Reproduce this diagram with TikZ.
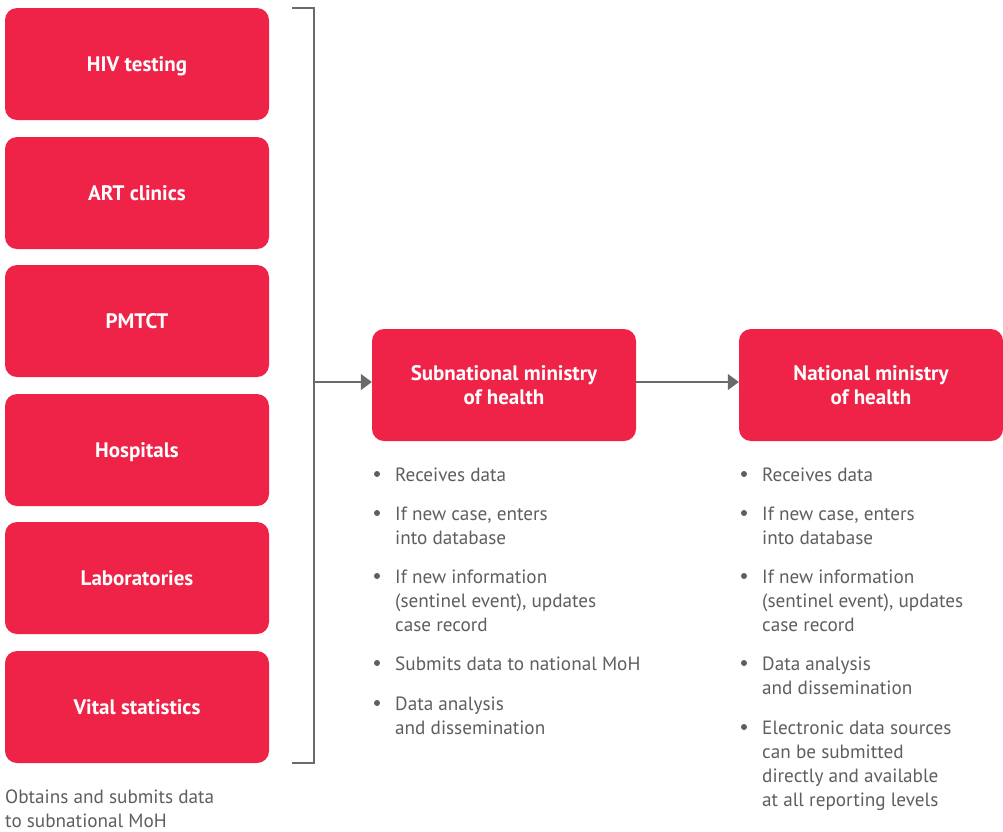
\documentclass[tikz,border=0pt]{standalone}
\usepackage{fontspec}
\setmainfont{PT Sans}
\usetikzlibrary{arrows.meta}
\definecolor{boxred}{HTML}{EE2347}
\definecolor{txtgray}{HTML}{5E5E5E}
\definecolor{linegray}{HTML}{6A6A6A}
\tikzset{
  redbox/.style={draw=none, fill=boxred, rounded corners=12pt, minimum width=264pt, minimum height=112pt, inner sep=0pt, text=white, font=\fontsize{21}{24}\selectfont\bfseries, align=center, text depth=0pt},
  itemtext/.style={anchor=base west, inner sep=0pt, text=txtgray, font=\fontsize{19.2}{24}\selectfont, align=left},
  bul/.style={circle, fill=txtgray, inner sep=0pt, minimum size=6pt},
  conn/.style={draw=linegray, line width=1.5pt},
  arr/.style={conn, -{Triangle[length=11pt, width=16pt]}},
}
\begin{document}
\begin{tikzpicture}[x=1pt,y=-1pt]
\useasboundingbox (0,0) rectangle (1003,831);
% left sources
\node[redbox] (hiv) at (137,64) {HIV testing};
\node[redbox] (art) at (137,193) {ART clinics};
\node[redbox] (pmtct) at (137,321) {PMTCT};
\node[redbox] (hosp) at (137,450) {Hospitals};
\node[redbox] (lab) at (137,578) {Laboratories};
\node[redbox] (vital) at (137,707) {Vital statistics};
% ministries
\node[redbox] (sub) at (504,385) {Subnational ministry\\of health};
\node[redbox] (nat) at (871,385) {National ministry\\of health};
% bracket
\coordinate (bt) at (292,8);
\coordinate (btr) at (314,8);
\coordinate (bb) at (292,763);
\coordinate (bbr) at (314,763);
\coordinate (bm) at (314,382);
\draw[conn] (bt) -- (btr) -- (bbr) -- (bb);
\draw[arr] (bm) -- (sub.west |- bm);
\draw[arr] (sub.east |- bm) -- (nat.west |- bm);
% caption (base anchor = last line baseline)
\node[itemtext] (cap) at (5,827) {Obtains and submits data\\to subnational MoH};
% subnational items
\node[itemtext] (s1) at (395,481) {Receives data};
\node[itemtext] (s2) at (395,544) {If new case, enters\\into database};
\node[itemtext] (s3) at (395,631) {If new information\\(sentinel event), updates\\case record};
\node[itemtext] (s4) at (395,670) {Submits data to national MoH};
\node[itemtext] (s5) at (395,734) {Data analysis\\and dissemination};
\foreach \n/\y in {s1/474,s2/513,s3/576,s4/663,s5/703} \node[bul] at (377,\y) {};
% national items
\node[itemtext] (n1) at (762,481) {Receives data};
\node[itemtext] (n2) at (762,544) {If new case, enters\\into database};
\node[itemtext] (n3) at (762,631) {If new information\\(sentinel event), updates\\case record};
\node[itemtext] (n4) at (762,694) {Data analysis\\and dissemination};
\node[itemtext] (n5) at (762,806) {Electronic data sources\\can be submitted\\directly and available\\at all reporting levels};
\foreach \n/\y in {n1/474,n2/513,n3/576,n4/663,n5/727} \node[bul] at (744,\y) {};
\end{tikzpicture}
\end{document}
